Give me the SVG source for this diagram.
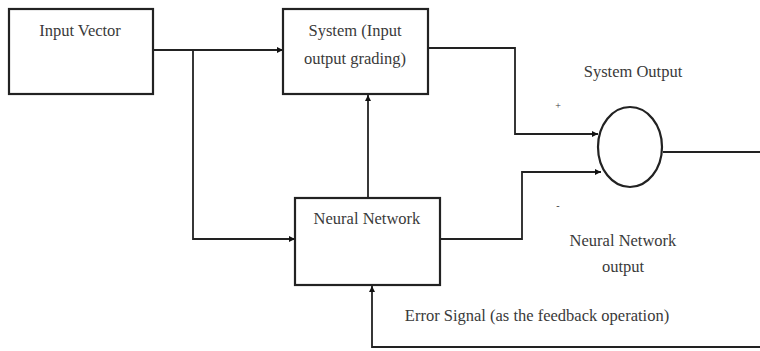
<svg xmlns="http://www.w3.org/2000/svg" width="760" height="351" viewBox="0 0 760 351">
<defs>
<style>
.box{fill:#fff;stroke:#222;stroke-width:2.2}
.ln{fill:none;stroke:#222;stroke-width:1.8}
.t{font-family:"Liberation Serif","Times New Roman",serif;font-size:16.5px;fill:#3a3a3a;text-anchor:middle;dominant-baseline:middle}
</style>
<marker id="ah" viewBox="0 0 10 10" refX="10" refY="5" markerWidth="6" markerHeight="6" orient="auto" markerUnits="userSpaceOnUse">
<path d="M0,0 L10,5 L0,10 z" fill="#111"/>
</marker>
</defs>
<rect width="760" height="351" fill="#fff"/>
<g id="connectors">
<path class="ln" d="M153,50 H283" marker-end="url(#ah)"/>
<path class="ln" d="M193,50 V239 H295" marker-end="url(#ah)"/>
<path class="ln" d="M368,198 V95" marker-end="url(#ah)"/>
<path class="ln" d="M428,48 H515 V134 H598" marker-end="url(#ah)"/>
<path class="ln" d="M440,239 H522 V172 H601" marker-end="url(#ah)"/>
<path class="ln" d="M663,152 H760"/>
<path class="ln" d="M760,347 H372 V286" marker-end="url(#ah)"/>
</g>
<g id="input-vector">
<rect class="box" x="9" y="9" width="144" height="85"/>
<text class="t" x="80" y="32">Input Vector</text>
</g>
<g id="system">
<rect class="box" x="283" y="9" width="145" height="85"/>
<text class="t" x="355" y="32">System (Input</text>
<text class="t" x="355" y="60">output grading)</text>
</g>
<g id="neural-network">
<rect class="box" x="295" y="198" width="145" height="87"/>
<text class="t" x="367" y="220">Neural Network</text>
</g>
<g id="sum">
<ellipse cx="630" cy="147" rx="32" ry="40" fill="#fff" stroke="#222" stroke-width="2.2"/>
</g>
<g id="labels">
<text class="t" x="633" y="73">System Output</text>
<text class="t" x="558" y="107" style="font-size:10px">+</text>
<text class="t" x="558" y="207" style="font-size:10px">-</text>
<text class="t" x="623" y="242">Neural Network</text>
<text class="t" x="623" y="268">output</text>
<text class="t" x="537" y="317">Error Signal (as the feedback operation)</text>
</g>
</svg>
